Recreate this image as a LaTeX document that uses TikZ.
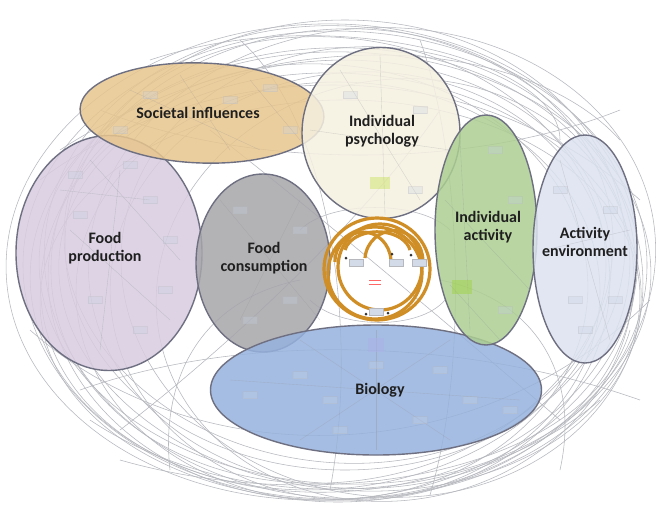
\documentclass[tikz,border=0pt]{standalone}
\usepackage{fontspec}
\setmainfont{Carlito}
\usetikzlibrary{shapes.geometric}
\definecolor{bgline}{RGB}{182,184,190}
\definecolor{rim}{RGB}{110,112,130}
\definecolor{socfill}{RGB}{232,198,142}
\definecolor{psyfill}{RGB}{245,240,224}
\definecolor{actfill}{RGB}{172,206,146}
\definecolor{envfill}{RGB}{220,226,240}
\definecolor{prodfill}{RGB}{216,204,224}
\definecolor{consfill}{RGB}{166,166,170}
\definecolor{biofill}{RGB}{150,178,221}
\definecolor{ring}{RGB}{208,142,38}
\definecolor{boxfill}{RGB}{200,210,228}
\tikzset{
  bg/.style={draw=bgline, line width=0.55pt},
  inner/.style={draw=bgline!80!black, line width=0.35pt, opacity=0.35},
  region/.style={ellipse, draw=rim, line width=1.4pt, inner sep=0pt, fill opacity=0.85},
  lbl/.style={font=\bfseries\fontsize{16}{18.5}\selectfont, text=black!88, align=center, inner sep=0pt},
  mini/.style={draw=bgline, line width=0.3pt, fill=boxfill, minimum width=14pt, minimum height=7pt, inner sep=0pt},
  orb/.style={draw=ring, line width=3.2pt},
}
\begin{document}
\begin{tikzpicture}[x=1pt,y=-1pt]
\useasboundingbox (0,0) rectangle (660,507);
\fill[white] (0,0) rectangle (660,507);
% ---- background loops ----
\foreach \cx/\cy/\rx/\ry/\a in {
 335/265/312/234/0, 330/270/300/222/3, 340/262/296/236/-4, 326/275/286/214/6,
 345/268/306/216/-2, 332/256/282/226/8, 350/282/292/208/-6, 322/262/316/238/2,
 338/292/262/210/0, 335/250/272/212/-8, 382/272/262/224/-10,
 360/286/250/214/4, 318/282/270/218/-3, 372/258/284/230/5,
 395/290/240/210/12, 340/300/300/200/1, 345/245/280/225/0}
 {\draw[bg] (\cx,\cy) ellipse [x radius=\rx, y radius=\ry, rotate=\a];}
% interior criss-cross curves
\draw[bg] (40,180) .. controls (200,60) and (460,40) .. (640,200);
\draw[bg] (30,330) .. controls (200,480) and (480,470) .. (650,300);
\draw[bg] (60,150) .. controls (260,20) and (520,30) .. (620,140);
\draw[bg] (90,420) .. controls (240,520) and (470,510) .. (600,400);
\draw[bg] (150,60) .. controls (330,0) and (560,60) .. (560,140);
\draw[bg] (120,460) .. controls (330,520) and (590,470) .. (630,330);
\draw[bg] (210,130) .. controls (300,200) and (420,300) .. (560,420);
\draw[bg] (440,110) .. controls (380,200) and (250,330) .. (120,430);
\draw[bg] (240,40) .. controls (330,120) and (360,330) .. (330,490);
\draw[bg] (420,40) .. controls (460,150) and (470,360) .. (430,495);
\draw[bg] (100,110) .. controls (250,170) and (470,170) .. (620,110);
\draw[bg] (80,390) .. controls (250,330) and (470,340) .. (640,400);
\draw[bg] (170,470) .. controls (160,380) and (200,300) .. (300,280);
\draw[bg] (560,470) .. controls (580,380) and (540,300) .. (440,280);
\draw[bg] (300,230) .. controls (330,200) and (420,200) .. (450,230);
\draw[bg] (310,300) .. controls (340,330) and (420,330) .. (445,300);
% ---- regions ----
\node[region, fill=prodfill, minimum width=186pt, minimum height=235pt] (prod) at (109,253) {};
\node[region, fill=socfill, minimum width=244pt, minimum height=100pt, rotate=-2] (soc) at (202,113) {};
\node[region, fill=psyfill, minimum width=158pt, minimum height=171pt] (psy) at (381,133) {};
\node[region, fill=consfill, minimum width=134pt, minimum height=178pt] (cons) at (263,263) {};
\node[region, fill=biofill, minimum width=331pt, minimum height=130pt] (bio) at (376,390) {};
\node[region, fill=actfill, minimum width=102pt, minimum height=230pt] (act) at (486,230) {};
\node[region, fill=envfill, minimum width=104pt, minimum height=228pt] (env) at (585,249) {};
% ---- faint inner map detail ----
\foreach \x/\y/\u/\v in {
 60/190/150/200, 70/230/170/320, 90/160/180/260, 120/170/100/350,
 130/90/260/150, 180/75/230/150, 250/80/300/140,
 340/70/420/200, 380/55/385/215, 310/130/450/150,
 460/140/470/330, 445/200/530/290, 450/285/500/340,
 560/160/610/340, 545/250/630/230,
 220/200/320/320, 240/320/300/200,
 230/380/520/400, 300/340/450/440, 450/340/300/440, 376/330/376/450}
 {\draw[inner] (\x,\y) -- (\u,\v);}
\foreach \x/\y in {
 75/175, 130/165, 150/200, 80/215, 165/290, 95/300, 140/330, 170/240,
 150/95, 230/100, 270/88, 120/130, 290/130,
 350/95, 420/110, 415/190,
 495/150, 515/200, 505/310,
 560/190, 610/210, 575/300, 615/300, 585/330,
 240/210, 300/230, 250/320, 290/300,
 376/365, 300/375, 330/400, 440/370, 470/400, 420/420, 340/430, 510/410, 250/395}
 {\node[mini, opacity=0.3] at (\x,\y) {};}
\fill[yellow!60!green, opacity=0.35] (452,280) rectangle (472,294);
\fill[yellow!70!green, opacity=0.3] (370,177) rectangle (390,189);
\fill[boxfill!85!blue, opacity=0.55] (368,338) rectangle (384,352);
% ---- orange rings ----
\draw[orb] (377,269) ellipse [x radius=53, y radius=51];
\draw[orb] (375,273) ellipse [x radius=47, y radius=46];
\draw[orb] (380,267) ellipse [x radius=42, y radius=43];
\draw[orb] (335,262) arc[start angle=180, end angle=355, x radius=28, y radius=30];
\draw[orb] (365,258) arc[start angle=185, end angle=360, x radius=29, y radius=30];
\draw[orb] (345,250) arc[start angle=190, end angle=350, x radius=33, y radius=22];
\node[mini, fill=boxfill!80!white] (b1) at (356,263) {};
\node[mini, fill=boxfill!80!white] (b2) at (396,263) {};
\node[mini, fill=boxfill!80!white] (b3) at (419,263) {};
\node[mini, fill=boxfill!80!white] (b4) at (376,312) {};
\draw[red!60, line width=0.5pt] (369,280) -- (381,280) (369,284) -- (381,284);
\foreach \x/\y in {346/258, 392/254, 411/255, 366/314, 388/313}
 {\fill[black!80] (\x,\y) circle (1.5);}
% ---- labels ----
\node[lbl] (tsoc) at (198,113) {Societal influences};
\node[lbl] (tpsy) at (382,131) {Individual\\psychology};
\node[lbl] (tact) at (488,227) {Individual\\activity};
\node[lbl] (tenv) at (585,242) {Activity\\environment};
\node[lbl] (tprod) at (105,248) {Food\\production};
\node[lbl] (tcons) at (264,258) {Food\\consumption};
\node[lbl] (tbio) at (380,390) {Biology};
\end{tikzpicture}
\end{document}
